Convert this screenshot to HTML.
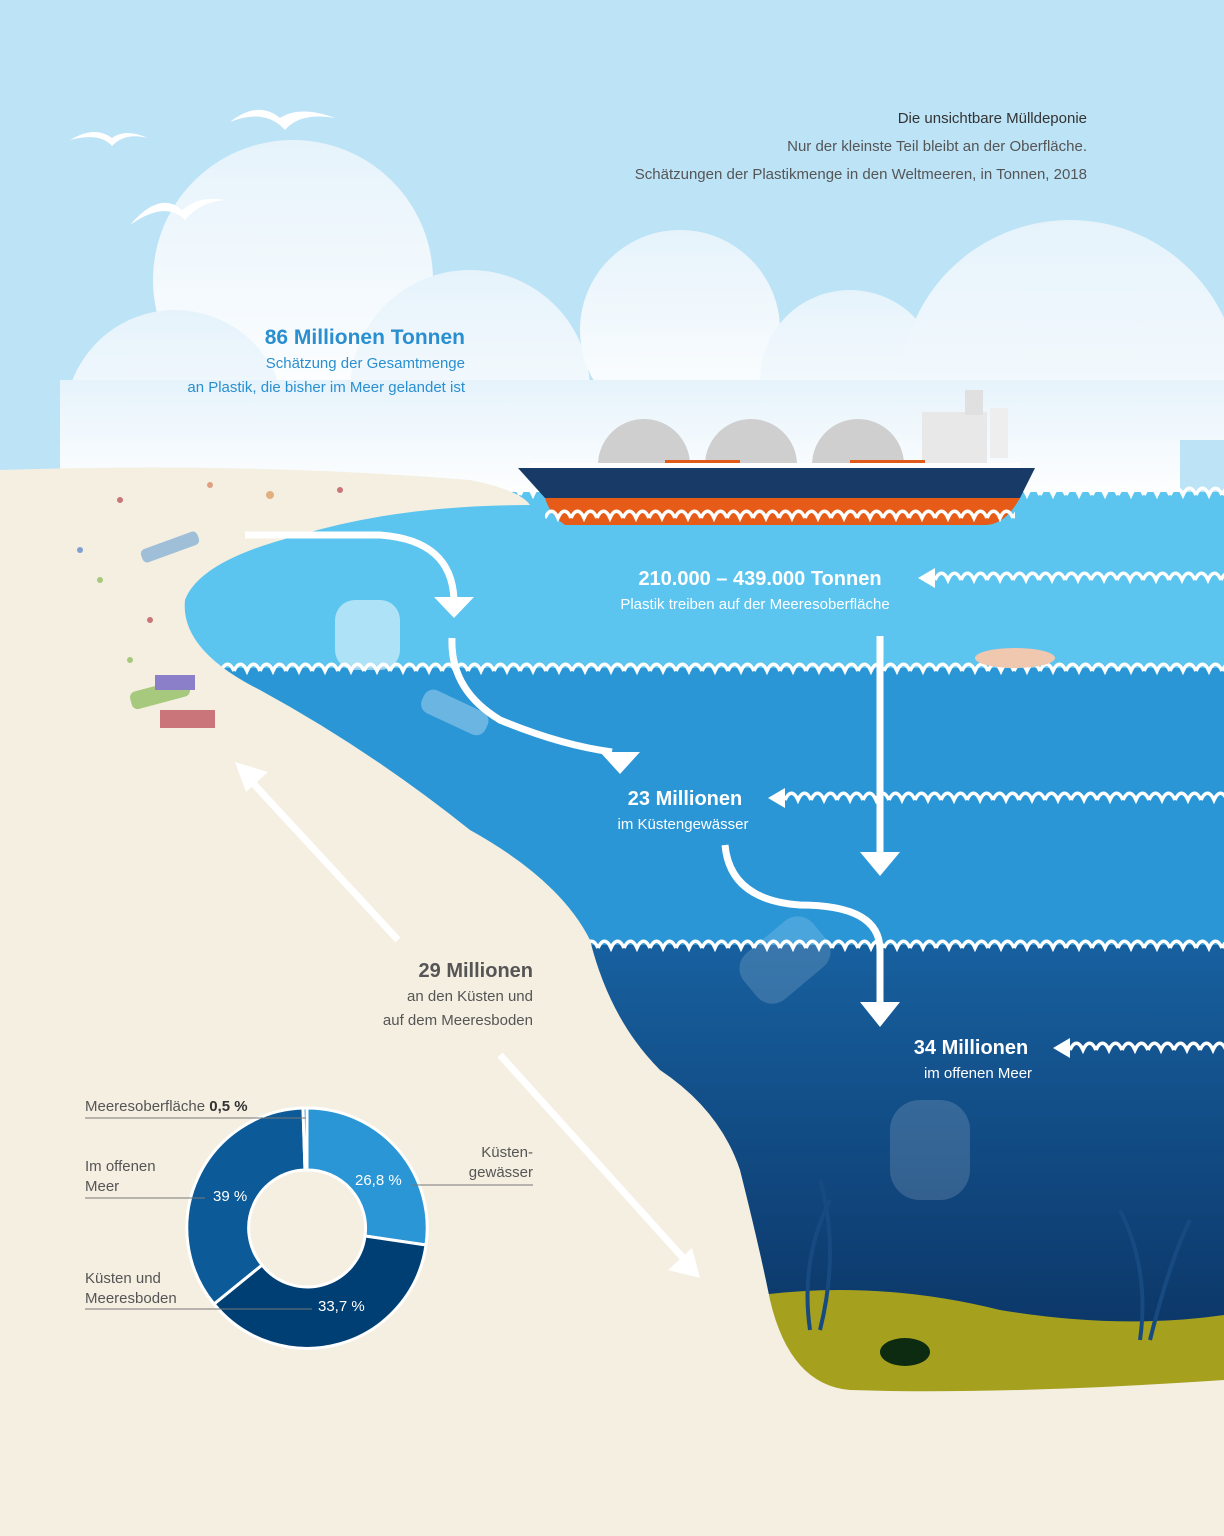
<!DOCTYPE html>
<html><head><meta charset="utf-8"><style>
html,body{margin:0;padding:0;width:1224px;height:1536px;overflow:hidden;background:#f5efe2}
svg{display:block}
text{font-family:"Liberation Sans",sans-serif}
</style></head><body>
<svg width="1224" height="1536" viewBox="0 0 1224 1536" xmlns="http://www.w3.org/2000/svg">
<defs>
<linearGradient id="deep" x1="0" y1="0" x2="0" y2="1">
<stop offset="0" stop-color="#17609f"/><stop offset="1" stop-color="#0a2f5e"/></linearGradient>
<linearGradient id="cl" x1="0" y1="0" x2="0" y2="1">
<stop offset="0" stop-color="#e6f3fb"/><stop offset="1" stop-color="#ffffff"/></linearGradient>
<pattern id="w492" x="0" y="482" width="26" height="20" patternUnits="userSpaceOnUse"><path d="M0 13 C4 4 9 4 13 13 C17 4 22 4 26 13" fill="none" stroke="#fff" stroke-width="3.5"/></pattern>
<pattern id="w668" x="0" y="658" width="26" height="20" patternUnits="userSpaceOnUse"><path d="M0 13 C4 4 9 4 13 13 C17 4 22 4 26 13" fill="none" stroke="#fff" stroke-width="3.5"/></pattern>
<pattern id="w945" x="0" y="935" width="26" height="20" patternUnits="userSpaceOnUse"><path d="M0 13 C4 4 9 4 13 13 C17 4 22 4 26 13" fill="none" stroke="#fff" stroke-width="3.5"/></pattern>
<pattern id="w577" x="935" y="567" width="26" height="20" patternUnits="userSpaceOnUse"><path d="M0 13 C4 4 9 4 13 13 C17 4 22 4 26 13" fill="none" stroke="#fff" stroke-width="3.5"/></pattern>
<pattern id="w797" x="785" y="787" width="26" height="20" patternUnits="userSpaceOnUse"><path d="M0 13 C4 4 9 4 13 13 C17 4 22 4 26 13" fill="none" stroke="#fff" stroke-width="3.5"/></pattern>
<pattern id="w1047" x="1070" y="1037" width="26" height="20" patternUnits="userSpaceOnUse"><path d="M0 13 C4 4 9 4 13 13 C17 4 22 4 26 13" fill="none" stroke="#fff" stroke-width="3.5"/></pattern>
<pattern id="w515" x="545" y="505" width="26" height="20" patternUnits="userSpaceOnUse"><path d="M0 13 C4 4 9 4 13 13 C17 4 22 4 26 13" fill="none" stroke="#fff" stroke-width="3.5"/></pattern>
</defs>
<rect width="1224" height="560" fill="#bde3f7"/>
<g fill="url(#cl)">
<circle cx="293" cy="280" r="140"/>
<circle cx="175" cy="420" r="110"/>
<circle cx="470" cy="390" r="120"/>
<circle cx="680" cy="330" r="100"/>
<circle cx="850" cy="380" r="90"/>
<circle cx="1070" cy="390" r="170"/>
<rect x="60" y="380" width="1164" height="120"/>
</g>
<rect x="1180" y="440" width="44" height="60" fill="#bde3f7"/>
<g fill="#fff">
<path d="M70 140 Q95 125 112 138 Q125 128 148 138 Q125 132 112 146 Q100 132 70 140Z"/>
<path d="M230 122 Q258 100 280 118 Q300 105 335 118 Q300 112 285 130 Q265 108 230 122Z"/>
<path d="M130 225 Q160 190 182 210 Q200 195 225 200 Q200 202 185 220 Q165 200 130 225Z"/>
</g>
<rect x="0" y="492" width="1224" height="180" fill="#5bc4ef"/>
<rect x="0" y="668" width="1224" height="280" fill="#2a96d6"/>
<rect x="0" y="945" width="1224" height="460" fill="url(#deep)"/>
<path d="M760 1295 Q880 1280 1000 1310 Q1120 1330 1224 1315 L1224 1400 L760 1400Z" fill="#a5a01e"/>
<rect x="0" y="482" width="1224" height="20" fill="url(#w492)"/>
<rect x="0" y="658" width="1224" height="20" fill="url(#w668)"/>
<rect x="0" y="935" width="1224" height="20" fill="url(#w945)"/>
<path d="M0 470 Q250 462 470 480 Q520 490 530 505 Q400 505 300 535 Q200 560 185 600 Q180 650 260 690 Q370 750 470 830 Q560 880 590 940 Q610 1020 660 1070 Q720 1110 740 1170 Q760 1250 770 1300 Q790 1385 850 1390 Q1000 1395 1224 1380 L1224 1536 L0 1536Z" fill="#f5efe2"/>
<g>
<rect x="140" y="540" width="60" height="14" rx="5" fill="#9fbfd8" transform="rotate(-20 170 547)"/>
<rect x="130" y="685" width="60" height="18" rx="6" fill="#a6c97d" transform="rotate(-15 160 694)"/>
<rect x="160" y="710" width="55" height="18" fill="#c9757a"/>
<rect x="155" y="675" width="40" height="15" fill="#8a7fc8"/>
<circle cx="120" cy="500" r="3" fill="#c9757a"/><circle cx="210" cy="485" r="3" fill="#e0a080"/>
<circle cx="80" cy="550" r="3" fill="#7fa0d0"/><circle cx="100" cy="580" r="3" fill="#a6c97d"/>
<circle cx="150" cy="620" r="3" fill="#c9757a"/><circle cx="130" cy="660" r="3" fill="#a6c97d"/>
<circle cx="270" cy="495" r="4" fill="#e0b080"/><circle cx="340" cy="490" r="3" fill="#c9757a"/>
</g>
<g>
<path d="M598 465 A45 45 0 0 1 690 465Z" fill="#cfcfcf"/>
<path d="M705 465 A45 45 0 0 1 797 465Z" fill="#cfcfcf"/>
<path d="M812 465 A45 45 0 0 1 904 465Z" fill="#cfcfcf"/>
<rect x="922" y="412" width="65" height="55" fill="#e8e8e8"/>
<rect x="965" y="390" width="18" height="25" fill="#e0e0e0"/>
<rect x="990" y="408" width="18" height="50" fill="#eee"/>
<rect x="665" y="460" width="75" height="5" fill="#e05a1a"/>
<rect x="850" y="460" width="75" height="5" fill="#e05a1a"/>
<rect x="530" y="463" width="490" height="5" fill="#fff"/>
<path d="M518 468 L1035 468 L1020 498 L545 498Z" fill="#183a66"/>
<path d="M545 498 L1020 498 Q1005 525 985 525 L565 525 Q550 515 545 498Z" fill="#e55b17"/>
</g>
<rect x="545" y="505" width="470" height="20" fill="url(#w515)"/>
<rect x="335" y="600" width="65" height="70" rx="20" fill="#fff" opacity="0.5"/>
<rect x="420" y="700" width="70" height="25" rx="10" fill="#fff" opacity="0.3" transform="rotate(25 455 712)"/>
<rect x="740" y="930" width="90" height="60" rx="20" fill="#fff" opacity="0.15" transform="rotate(-40 785 960)"/>
<rect x="890" y="1100" width="80" height="100" rx="30" fill="#fff" opacity="0.15"/>
<ellipse cx="1015" cy="658" rx="40" ry="10" fill="#f0c8b0"/>
<ellipse cx="905" cy="1352" rx="25" ry="14" fill="#0c2b10"/>
<g stroke="#174a80" stroke-width="4" fill="none">
<path d="M810 1330 Q800 1260 830 1200"/><path d="M820 1330 Q840 1250 820 1180"/>
<path d="M1140 1340 Q1150 1270 1120 1210"/><path d="M1150 1340 Q1170 1260 1190 1220"/>
</g>
<rect x="935" y="567" width="289" height="20" fill="url(#w577)"/>
<path d="M918 578 L935 568 L935 588Z" fill="#fff"/>
<rect x="785" y="787" width="439" height="20" fill="url(#w797)"/>
<path d="M768 798 L785 788 L785 808Z" fill="#fff"/>
<rect x="1070" y="1037" width="154" height="20" fill="url(#w1047)"/>
<path d="M1053 1048 L1070 1038 L1070 1058Z" fill="#fff"/>
<g fill="none" stroke="#fff" stroke-width="7">
<path d="M245 535 L380 535 Q452 540 454 600"/>
<path d="M452 638 Q450 690 500 720 Q560 745 612 752"/>
<path d="M880 636 L880 855"/>
<path d="M725 845 Q730 900 800 905 Q880 905 880 950 L880 1005"/>
<path d="M398 940 L250 780"/>
<path d="M500 1055 L685 1260"/>
</g>
<g fill="#fff">
<path d="M434 597 L474 597 L454 618Z"/>
<path d="M600 752 L640 752 L620 774Z"/>
<path d="M860 852 L900 852 L880 876Z"/>
<path d="M860 1002 L900 1002 L880 1027Z"/>
<path d="M235 762 L268 772 L246 792Z"/>
<path d="M700 1278 L668 1270 L692 1248Z"/>
</g>
<g text-anchor="end">
<text x="1087" y="123" font-size="15" fill="#333">Die unsichtbare Mülldeponie</text>
<text x="1087" y="151" font-size="15" fill="#555">Nur der kleinste Teil bleibt an der Oberfläche.</text>
<text x="1087" y="179" font-size="15" fill="#555">Schätzungen der Plastikmenge in den Weltmeeren, in Tonnen, 2018</text>
<text x="465" y="344" font-size="21" font-weight="bold" fill="#2a8fd0">86 Millionen Tonnen</text>
<text x="465" y="368" font-size="15" fill="#2a8fd0">Schätzung der Gesamtmenge</text>
<text x="465" y="392" font-size="15" fill="#2a8fd0">an Plastik, die bisher im Meer gelandet ist</text>
<text x="533" y="977" font-size="20" font-weight="bold" fill="#555">29 Millionen</text>
<text x="533" y="1001" font-size="15" fill="#555">an den Küsten und</text>
<text x="533" y="1025" font-size="15" fill="#555">auf dem Meeresboden</text>
<text x="533" y="1157" font-size="15" fill="#555">Küsten-</text>
<text x="533" y="1177" font-size="15" fill="#555">gewässer</text>
</g>
<g text-anchor="middle" fill="#fff">
<text x="760" y="585" font-size="20" font-weight="bold">210.000 – 439.000 Tonnen</text>
<text x="755" y="609" font-size="15">Plastik treiben auf der Meeresoberfläche</text>
<text x="685" y="805" font-size="20" font-weight="bold">23 Millionen</text>
<text x="683" y="829" font-size="15">im Küstengewässer</text>
<text x="971" y="1054" font-size="20" font-weight="bold">34 Millionen</text>
<text x="978" y="1078" font-size="15">im offenen Meer</text>
</g>
<g stroke="#fff" stroke-width="3">
<path d="M307 1108 A120 120 0 0 1 426 1245 L365 1236 A58 58 0 0 0 307 1170Z" fill="#2a96d6"/>
<path d="M426 1245 A120 120 0 0 1 214 1304 L262 1265 A58 58 0 0 0 365 1236Z" fill="#003f73"/>
<path d="M214 1304 A120 120 0 0 1 303 1108 L305 1170 A58 58 0 0 0 262 1265Z" fill="#0c5a97"/>
<path d="M303 1108 A120 120 0 0 1 307 1108 L307 1170 L305 1170Z" fill="#2a96d6"/>
</g>
<g font-size="15" fill="#555">
<text x="85" y="1111">Meeresoberfläche <tspan font-weight="bold" fill="#333">0,5 %</tspan></text>
<text x="85" y="1171">Im offenen</text><text x="85" y="1191">Meer</text>
<text x="85" y="1283">Küsten und</text><text x="85" y="1303">Meeresboden</text>
</g>
<g stroke="#777" stroke-width="1">
<line x1="85" y1="1118" x2="306" y2="1118"/>
<line x1="85" y1="1198" x2="205" y2="1198"/>
<line x1="85" y1="1309" x2="312" y2="1309"/>
<line x1="412" y1="1185" x2="533" y2="1185"/>
</g>
<g font-size="15" fill="#fff">
<text x="355" y="1185">26,8 %</text>
<text x="213" y="1201">39 %</text>
<text x="318" y="1311">33,7 %</text>
</g>
</svg>
</body></html>
